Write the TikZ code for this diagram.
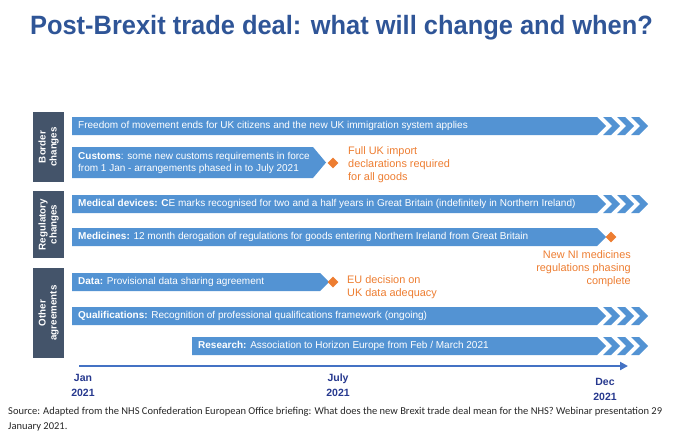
\documentclass[tikz,border=0pt]{standalone}
\usepackage{fontspec}
\setmainfont{Liberation Sans}
\newfontfamily\sourcefont{Carlito}
\usetikzlibrary{shapes.geometric,arrows.meta}

\definecolor{barblue}{HTML}{5393D3}
\definecolor{groupgrey}{HTML}{44546A}
\definecolor{milestone}{HTML}{ED7D31}
\definecolor{titleblue}{HTML}{2F5597}
\definecolor{monthblue}{HTML}{26388E}
\definecolor{axisblue}{HTML}{4472C4}

\begin{document}
\begin{tikzpicture}[x=1pt, y=-1pt,
                group/.style={fill=groupgrey, text=white, rotate=90, align=center, inner sep=0pt,
                  minimum height=31pt, font=\fontsize{9.8}{11}\selectfont\bfseries},
                bartext/.style={anchor=west, text=white, align=left, inner sep=0pt,
                  font=\fontsize{10}{12}\selectfont},
                milestone/.style={diamond, fill=milestone, minimum size=11pt, inner sep=0pt},
                note/.style={text=milestone, align=left, inner sep=0pt,
                  font=\fontsize{10.9}{13}\selectfont},
                month/.style={text=monthblue, align=center, inner sep=0pt,
                  font=\fontsize{10.5}{15}\selectfont\bfseries}
                ]
                \useasboundingbox (0,0) rectangle (700,447);
                % Title
                \node[text=titleblue, xscale=0.96, font=\fontsize{26.5}{28}\selectfont\bfseries] (title) at (341.5,28)
                  {Post-Brexit trade deal: what will change and when?};
                % Groups
                \node[group, minimum width=70pt] (border) at (48.5,147) {Border\\changes};
                \node[group, minimum width=67pt] (regulatory) at (48.5,224.5) {Regulatory\\changes};
                \node[group, minimum width=90pt] (other) at (48.5,313) {Other\\agreements};
                % Long bars
                \foreach \x/\y in {72/126, 72/204, 72/237, 72/316, 192/346}
                  \fill[barblue] (\x,\y-9) -- (597,\y-9) -- (606,\y) -- (597,\y+9) -- (\x,\y+9) -- cycle;
                % Ongoing chevrons
                \foreach \y in {126, 204, 316, 346}
                  \foreach \x in {603, 617, 631}
                    \fill[barblue] (\x,\y-9) -- ++(8,0) -- ++(9,9) -- ++(-9,9) -- ++(-8,0) -- ++(9,-9) -- cycle;
                % Bars to July
                \fill[barblue] (72,147) -- (313,147) -- (326,162.5) -- (313,178) -- (72,178) -- cycle;
                \fill[barblue] (72,273) -- (320,273) -- (329,282) -- (320,291) -- (72,291) -- cycle;
                % Bar texts
                \node[bartext] (freedom) at (78,126)
                  {Freedom of movement ends for UK citizens and the new UK immigration system applies};
                \node[bartext] (customs) at (78,162.5)
                  {\textbf{Customs}: some new customs requirements in force\\from 1 Jan - arrangements phased in to July 2021};
                \node[bartext] (devices) at (78,204)
                  {\textbf{Medical devices: C}E marks recognised for two and a half years in Great Britain (indefinitely in Northern Ireland)};
                \node[bartext] (medicines) at (78,237)
                  {\textbf{Medicines:} 12 month derogation of regulations for goods entering Northern Ireland from Great Britain};
                \node[bartext] (data) at (78,282)
                  {\textbf{Data:} Provisional data sharing agreement};
                \node[bartext] (qualifications) at (78,316)
                  {\textbf{Qualifications:} Recognition of professional qualifications framework (ongoing)};
                \node[bartext] (research) at (198,346)
                  {\textbf{Research:} Association to Horizon Europe from Feb / March 2021};
                % Milestones
                \node[milestone] (customsend) at (333,163) {};
                \node[milestone] (medicinesend) at (611,237) {};
                \node[milestone] (dataend) at (333,282) {};
                \node[note, anchor=west] (imports) at (348,165)
                  {Full UK import\\declarations required\\for all goods};
                \node[note, anchor=north east, align=right] (nimedicines) at (631,250)
                  {New NI medicines\\regulations phasing\\complete};
                \node[note, anchor=west] (adequacy) at (347,287)
                  {EU decision on\\UK data adequacy};
                % Time axis
                \coordinate (start) at (79,366);
                \coordinate (finish) at (628,366);
                \draw[axisblue, line width=2pt, -{Triangle[length=8pt,width=8pt]}] (start) -- (finish);
                \node[month] (jan) at (83,385.5) {Jan\\2021};
                \node[month] (july) at (338,385) {July\\2021};
                \node[month] (dec) at (605,389.5) {Dec\\2021};
                % Source
                \node[anchor=north west, align=left, inner sep=0pt, text=black!85,
                  font=\sourcefont\fontsize{10.5}{15}\selectfont] (source) at (8,407)
                  {Source: Adapted from the NHS Confederation European Office briefing: What does the new Brexit trade deal mean for the NHS? Webinar presentation 29\\January 2021.};
              \end{tikzpicture}
\end{document}
